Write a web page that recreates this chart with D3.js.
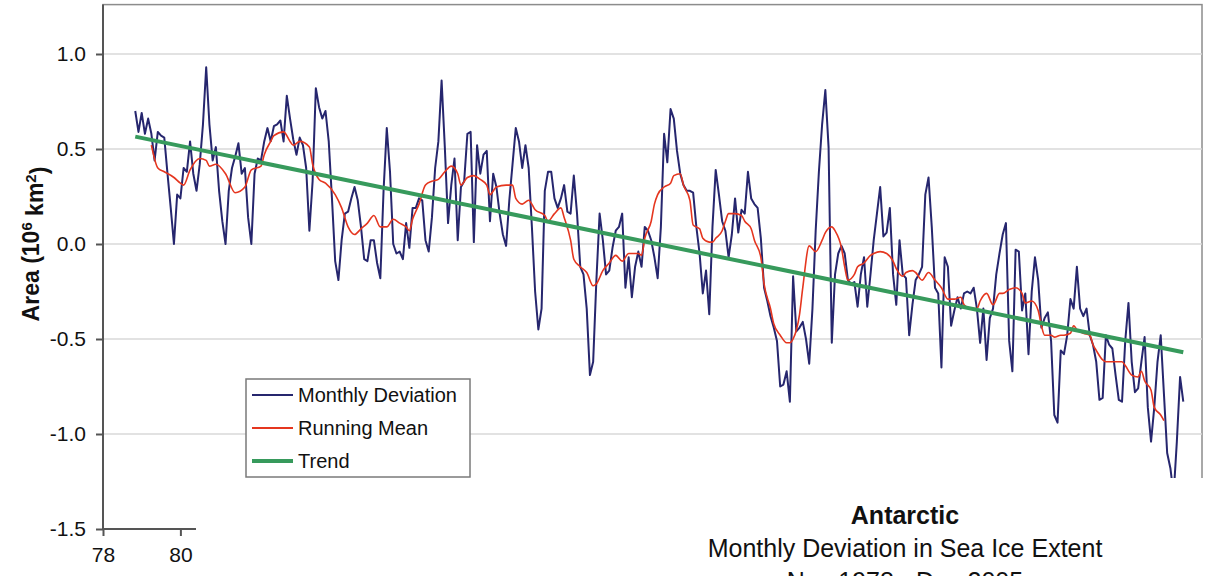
<!DOCTYPE html>
<html>
<head>
<meta charset="utf-8">
<script src="https://cdn.jsdelivr.net/npm/d3@7"></script>
<style>
  body { margin: 0; background: #fff; }
  svg { display: block; font-family: "Liberation Sans", Arial, sans-serif; }
</style>
</head>
<body>
<div id="chart"></div>
<script>
// years counted from 1900, like the axis labels (78 = 1978)
const startYear = 78;
const startMonth = 10; // November, zero based

// monthly deviation, Nov 1978 .. Dec 2005 (10^6 km2)
const monthlyDeviation = [
  0.70, 0.59, 0.69, 0.58, 0.66, 0.58, 0.44, 0.59, 0.57, 0.56,
  0.37, 0.19, 0.00, 0.26, 0.24, 0.40, 0.38, 0.54, 0.37, 0.28,
  0.42, 0.63, 0.93, 0.63, 0.44, 0.51, 0.28, 0.12, 0.00, 0.28,
  0.40, 0.46, 0.53, 0.37, 0.40, 0.14, 0.00, 0.37, 0.45, 0.44,
  0.54, 0.61, 0.54, 0.62, 0.63, 0.65, 0.54, 0.78, 0.66, 0.55,
  0.47, 0.56, 0.52, 0.40, 0.07, 0.33, 0.82, 0.72, 0.66, 0.70,
  0.54, 0.24, -0.09, -0.19, 0.02, 0.16, 0.17, 0.24, 0.30, 0.23,
  0.09, -0.08, -0.09, 0.02, 0.02, -0.10, -0.18, 0.28, 0.61, 0.38,
  0.00, -0.05, -0.04, -0.08, 0.11, -0.02, 0.19, 0.19, 0.24, 0.23,
  0.02, -0.04, 0.14, 0.40, 0.54, 0.86, 0.51, 0.11, 0.31, 0.45,
  0.02, 0.30, 0.33, 0.58, 0.59, 0.01, 0.52, 0.37, 0.47, 0.49,
  0.12, 0.37, 0.30, 0.16, 0.05, -0.01, 0.23, 0.42, 0.61, 0.54,
  0.40, 0.52, 0.40, 0.09, -0.25, -0.45, -0.34, 0.28, 0.38, 0.38,
  0.24, 0.19, 0.24, 0.31, 0.17, 0.16, 0.36, 0.16, -0.12, -0.16,
  -0.34, -0.69, -0.62, -0.19, 0.16, 0.02, -0.16, -0.14, -0.02, 0.07,
  0.09, 0.16, -0.23, -0.07, -0.28, -0.12, -0.04, -0.12, 0.09, 0.07,
  0.02, -0.07, -0.18, 0.09, 0.58, 0.43, 0.71, 0.66, 0.49, 0.37,
  0.31, 0.28, 0.28, 0.27, 0.09, -0.05, -0.26, -0.14, -0.37, 0.09,
  0.39, 0.26, 0.12, 0.07, -0.07, 0.05, 0.24, 0.06, 0.18, 0.16,
  0.38, 0.24, 0.21, 0.19, 0.03, -0.23, -0.30, -0.38, -0.44, -0.51,
  -0.75, -0.74, -0.67, -0.83, -0.17, -0.46, -0.44, -0.41, -0.50, -0.63,
  -0.34, 0.07, 0.38, 0.63, 0.81, 0.51, -0.52, -0.16, -0.05, -0.01,
  -0.05, -0.19, -0.21, -0.20, -0.33, -0.16, -0.07, -0.33, -0.16, 0.02,
  0.16, 0.30, 0.04, 0.06, 0.19, -0.16, -0.32, 0.02, -0.16, -0.18,
  -0.48, -0.32, -0.19, -0.16, -0.12, 0.26, 0.35, 0.09, -0.23, -0.26,
  -0.65, -0.07, -0.12, -0.43, -0.35, -0.28, -0.34, -0.26, -0.25, -0.26,
  -0.23, -0.34, -0.52, -0.34, -0.61, -0.39, -0.34, -0.16, -0.05, 0.05,
  0.11, -0.51, -0.67, -0.03, -0.04, -0.35, -0.26, -0.58, -0.25, -0.07,
  -0.19, -0.44, -0.39, -0.36, -0.51, -0.90, -0.94, -0.56, -0.58, -0.48,
  -0.29, -0.34, -0.12, -0.34, -0.38, -0.34, -0.48, -0.53, -0.62, -0.82,
  -0.81, -0.48, -0.53, -0.55, -0.69, -0.82, -0.83, -0.51, -0.31, -0.62,
  -0.78, -0.76, -0.62, -0.49, -0.86, -1.04, -0.86, -0.62, -0.48, -0.79,
  -1.10, -1.18, -1.32, -1.04, -0.70, -0.83
];

const runningMeanMonths = [
  5, 7, 9, 12, 14, 15, 17, 20, 22, 23, 25, 28, 31, 34, 36, 39, 40, 42, 43, 46,
  48, 49, 51, 54, 55, 57, 59, 62, 64, 66, 68, 70, 72, 74, 76, 78, 80, 82, 84, 85,
  86, 88, 90, 92, 94, 96, 98, 100, 101, 103, 105, 107, 109, 110, 112, 115, 117, 118, 120, 122,
  124, 127, 128, 130, 132, 133, 135, 136, 138, 140, 142, 143, 145, 147, 149, 151, 153, 156, 157, 158,
  160, 161, 162, 164, 166, 167, 169, 170, 172, 173, 175, 176, 178, 179, 180, 182, 183, 184, 186, 188,
  189, 191, 192, 194, 195, 197, 198, 200, 202, 203, 204, 206, 207, 209, 211, 213, 214, 216, 217, 219,
  220, 221, 223, 224, 226, 228, 229, 231, 233, 235, 236, 238, 239, 241, 242, 244, 246, 248, 250, 252,
  254, 256, 257, 259, 261, 262, 264, 266, 268, 269, 271, 273, 275, 276, 278, 280, 281, 282, 284, 285,
  287, 288, 290, 291, 292, 294, 296, 297, 298, 300, 301, 303, 304, 306, 307, 309, 311, 312, 313, 315,
  316, 318, 319
];
const runningMeanValues = [
  0.52, 0.40, 0.38, 0.35, 0.32, 0.31, 0.39, 0.45, 0.44, 0.41, 0.42, 0.37, 0.27, 0.30, 0.39, 0.41, 0.47, 0.54, 0.57, 0.59,
  0.54, 0.52, 0.54, 0.51, 0.42, 0.34, 0.32, 0.26, 0.19, 0.09, 0.05, 0.08, 0.11, 0.15, 0.09, 0.09, 0.13, 0.11, 0.09, 0.07,
  0.13, 0.21, 0.31, 0.33, 0.34, 0.38, 0.41, 0.37, 0.31, 0.35, 0.36, 0.34, 0.31, 0.26, 0.30, 0.31, 0.31, 0.24, 0.21, 0.23,
  0.18, 0.15, 0.12, 0.16, 0.19, 0.14, 0.02, -0.08, -0.12, -0.15, -0.22, -0.21, -0.14, -0.10, -0.06, -0.09, -0.05, -0.05, -0.06, 0.03,
  0.12, 0.21, 0.26, 0.30, 0.32, 0.36, 0.37, 0.31, 0.23, 0.10, 0.08, 0.03, 0.01, 0.01, 0.03, 0.07, 0.12, 0.16, 0.16, 0.15,
  0.12, 0.08, 0.02, -0.07, -0.21, -0.34, -0.42, -0.48, -0.52, -0.52, -0.50, -0.37, -0.23, -0.01, -0.04, 0.02, 0.06, 0.09, 0.07, -0.02,
  -0.12, -0.19, -0.16, -0.12, -0.10, -0.06, -0.05, -0.04, -0.05, -0.09, -0.13, -0.17, -0.15, -0.14, -0.15, -0.19, -0.15, -0.19, -0.23, -0.29,
  -0.29, -0.28, -0.32, -0.34, -0.34, -0.30, -0.26, -0.32, -0.26, -0.26, -0.24, -0.23, -0.26, -0.31, -0.30, -0.35, -0.43, -0.48, -0.48, -0.49,
  -0.48, -0.48, -0.47, -0.43, -0.45, -0.47, -0.48, -0.53, -0.56, -0.61, -0.62, -0.62, -0.62, -0.62, -0.64, -0.69, -0.70, -0.67, -0.72, -0.77,
  -0.86, -0.90, -0.93
];

// linear trend, end points
const trendMonths = [0, 325];
const trendValues = [0.565, -0.57];

const yTicks = [1.0, 0.5, 0.0, -0.5, -1.0, -1.5];
const xTicks = [78, 80];
const legendLabels = ['Monthly Deviation', 'Running Mean', 'Trend'];
const seriesColors = ['#26266e', '#e5361f', '#379a5c'];
const titleLines = ['Antarctic', 'Monthly Deviation in Sea Ice Extent', 'Nov 1978 - Dec 2005'];

const width = 1208;
const height = 576;

const svg = d3.select('#chart')
  .append('svg')
  .attr('width', width)
  .attr('height', height);

// scales
const xScale = d3.scaleLinear()
  .domain([78, 106.4])
  .range([103, 1202]);

const yScale = d3.scaleLinear()
  .domain([-1.5, 1.26])
  .range([529, 4.6]);

const monthToYear = m => startYear + (startMonth + m) / 12;

// frame of the plot area
svg.append('rect')
  .attr('x', xScale(78))
  .attr('y', yScale(1.26))
  .attr('width', xScale(106.4) - xScale(78))
  .attr('height', yScale(-1.5) - yScale(1.26))
  .attr('fill', 'none')
  .attr('stroke', '#8c8c8c')
  .attr('stroke-width', 1.5);

// gridlines
svg.append('g')
  .selectAll('line')
  .data(yTicks.filter(d => d > -1.5))
  .enter()
  .append('line')
  .attr('x1', xScale(78))
  .attr('x2', xScale(106.4))
  .attr('y1', d => yScale(d))
  .attr('y2', d => yScale(d))
  .attr('stroke', '#d9d9d9')
  .attr('stroke-width', 1.5);

// line generators
const line = d3.line()
  .x(d => xScale(monthToYear(d[0])))
  .y(d => yScale(d[1]));

const monthlyData = monthlyDeviation.map((v, i) => [i, v]);
const meanData = runningMeanMonths.map((m, i) => [m, runningMeanValues[i]]);
const trendData = trendMonths.map((m, i) => [m, trendValues[i]]);

svg.append('path')
  .datum(monthlyData)
  .attr('fill', 'none')
  .attr('stroke', seriesColors[0])
  .attr('stroke-width', 2)
  .attr('stroke-linejoin', 'round')
  .attr('d', line);

svg.append('path')
  .datum(meanData)
  .attr('fill', 'none')
  .attr('stroke', seriesColors[1])
  .attr('stroke-width', 1.6)
  .attr('d', line.curve(d3.curveMonotoneX));

svg.append('path')
  .datum(trendData)
  .attr('fill', 'none')
  .attr('stroke', seriesColors[2])
  .attr('stroke-width', 4)
  .attr('d', line.curve(d3.curveLinear));

// legend
const legend = svg.append('g')
  .attr('transform', 'translate(246, 379)');

legend.append('rect')
  .attr('width', 224)
  .attr('height', 98)
  .attr('fill', '#fff')
  .attr('stroke', '#7a7a7a')
  .attr('stroke-width', 1.5);

const legendItems = legend.selectAll('.item')
  .data(legendLabels)
  .enter()
  .append('g')
  .attr('class', 'item')
  .attr('transform', (d, i) => `translate(0, ${16 + i * 33})`);

legendItems.append('line')
  .attr('x1', 6)
  .attr('x2', 47)
  .attr('stroke', (d, i) => seriesColors[i])
  .attr('stroke-width', (d, i) => i === 2 ? 4 : 2);

legendItems.append('text')
  .attr('x', 52)
  .attr('dy', '0.35em')
  .style('font-size', '20px')
  .attr('fill', '#111')
  .text(d => d);

// white box over the lower right, where the title sits
svg.append('rect')
  .attr('x', 196)
  .attr('y', 478)
  .attr('width', width - 196)
  .attr('height', height - 478)
  .attr('fill', '#fff');

// axes
const yAxis = d3.axisLeft(yScale)
  .tickValues(yTicks)
  .tickSize(7)
  .tickSizeOuter(0)
  .tickFormat(d => d.toFixed(1));

const yAxisGroup = svg.append('g')
  .attr('transform', `translate(${xScale(78)}, 0)`)
  .call(yAxis);

yAxisGroup.select('.domain')
  .attr('d', `M0,${yScale(1.26)}V${yScale(-1.5)}`);

const xAxis = d3.axisBottom(xScale)
  .tickValues(xTicks)
  .tickSize(7)
  .tickSizeOuter(0)
  .tickFormat(d => d);

const xAxisGroup = svg.append('g')
  .attr('transform', `translate(0, ${yScale(-1.5)})`)
  .call(xAxis);

xAxisGroup.select('.domain')
  .attr('d', `M${xScale(78)},0H196`);

[yAxisGroup, xAxisGroup].forEach(g => {
  g.selectAll('.domain, line')
    .attr('stroke', '#555')
    .attr('stroke-width', 2);
  g.selectAll('text')
    .attr('fill', '#111')
    .style('font-family', '"Liberation Sans", Arial, sans-serif')
    .style('font-size', '21px');
});
yAxisGroup.selectAll('text').attr('x', -17);
xAxisGroup.selectAll('text').attr('y', 18);

// y axis title with superscripts
const yTitle = svg.append('text')
  .attr('transform', `translate(31, ${yScale(0)}) rotate(-90)`)
  .attr('text-anchor', 'middle')
  .attr('dy', '0.35em')
  .style('font-size', '23px')
  .style('font-weight', 'bold')
  .attr('fill', '#111');
yTitle.append('tspan').text('Area (10');
yTitle.append('tspan').attr('dy', '-0.5em').style('font-size', '15px').text('6');
yTitle.append('tspan').attr('dy', '0.5em').text(' km');
yTitle.append('tspan').attr('dy', '-0.5em').style('font-size', '15px').text('2');
yTitle.append('tspan').attr('dy', '0.5em').text(')');

// chart title, last line runs off the bottom edge as in the original
svg.append('g')
  .selectAll('text')
  .data(titleLines)
  .enter()
  .append('text')
  .attr('x', 905)
  .attr('y', (d, i) => 524 + i * 33)
  .attr('text-anchor', 'middle')
  .style('font-size', '25px')
  .style('font-weight', (d, i) => i === 0 ? 'bold' : 'normal')
  .attr('fill', '#111')
  .text(d => d);
</script>
</body>
</html>
